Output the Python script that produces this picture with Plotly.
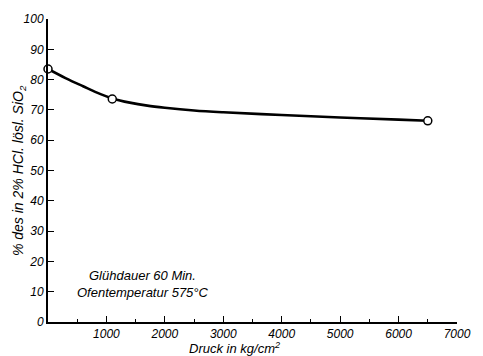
import plotly.graph_objects as go

# measured points
pressure = [0, 1100, 6500]
dissolved = [83.5, 73.6, 66.4]
# smooth drawn curve
curve_x = [0, 300, 600, 900, 1100, 1400, 1700, 2000, 2500, 3000, 4000, 5000, 6000, 6500]
curve_y = [83.5, 80.5, 77.8, 75.2, 73.8, 72.4, 71.4, 70.7, 69.8, 69.2, 68.3, 67.5, 66.8, 66.4]

x_ticks = [1000, 2000, 3000, 4000, 5000, 6000, 7000]
y_ticks = [0, 10, 20, 30, 40, 50, 60, 70, 80, 90, 100]

FONT = "Liberation Sans, Arial, sans-serif"

fig = go.Figure()
fig.add_trace(go.Scatter(x=curve_x, y=curve_y, mode="lines",
                         line=dict(color="black", width=2.6, shape="spline", smoothing=1.0),
                         hoverinfo="skip", showlegend=False))
fig.add_trace(go.Scatter(x=pressure, y=dissolved, mode="markers",
                         marker=dict(symbol="circle", size=8, color="white",
                                     line=dict(color="black", width=1.5)),
                         showlegend=False, cliponaxis=False))

tickfont = dict(family=FONT, size=12, color="black", style="italic")

fig.update_layout(
    width=483, height=356,
    margin=dict(l=48, r=15, t=18, b=34),
    paper_bgcolor="white", plot_bgcolor="white",
    xaxis=dict(range=[0, 7000], tickvals=x_ticks, ticktext=[str(v) for v in x_ticks],
               ticks="inside", ticklen=6, tickwidth=1.2, tickcolor="black",
               minor=dict(tickvals=[500, 1500, 2500, 3500, 4500, 5500, 6500],
                          ticks="inside", ticklen=3, tickcolor="black"),
               showline=True, linecolor="black", linewidth=2,
               showgrid=False, zeroline=False, tickfont=tickfont),
    yaxis=dict(range=[0, 100], tickvals=y_ticks, ticks="inside", ticklen=6,
               tickwidth=1.2, tickcolor="black",
               showline=True, linecolor="black", linewidth=2,
               showgrid=False, zeroline=False, tickfont=tickfont),
    annotations=[
        dict(text="% des in 2% HCl. lösl. SiO<sub>2</sub>", xref="paper", yref="paper",
             x=-0.072, y=0.5, xanchor="center", yanchor="middle", textangle=-90,
             showarrow=False, font=dict(family=FONT, size=14, color="black", style="italic")),
        dict(text="Druck in kg/cm<sup>2</sup>", xref="paper", yref="paper",
             x=0.455, y=-0.086, xanchor="center", yanchor="middle",
             showarrow=False, font=dict(family=FONT, size=13, color="black", style="italic")),
        dict(text="Glühdauer 60 Min.", xref="x", yref="y", x=670, y=15.2,
             xanchor="left", yanchor="middle", showarrow=False,
             font=dict(family=FONT, size=13, color="black", style="italic")),
        dict(text="Ofentemperatur 575°C", xref="x", yref="y", x=470, y=9.8,
             xanchor="left", yanchor="middle", showarrow=False,
             font=dict(family=FONT, size=13, color="black", style="italic")),
    ],
)

fig.write_html("out.html")
